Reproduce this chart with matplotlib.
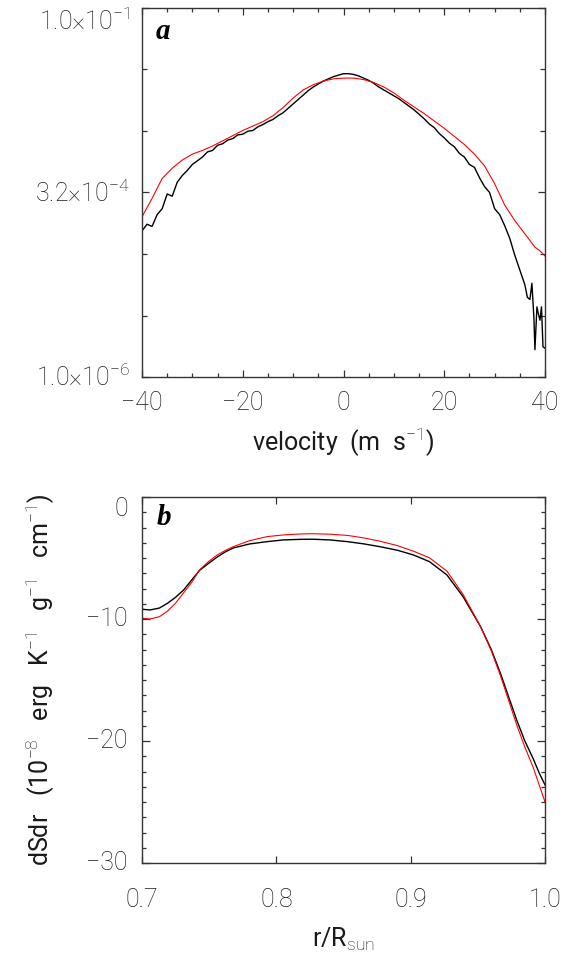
import matplotlib
matplotlib.use('Agg')
import matplotlib.pyplot as plt
import numpy as np
from matplotlib.ticker import FixedLocator, FixedFormatter, NullFormatter, MultipleLocator

plt.rcParams['font.family'] = ['Roboto', 'DejaVu Sans']
plt.rcParams['font.weight'] = 'light'
plt.rcParams['mathtext.fontset'] = 'custom'
plt.rcParams['mathtext.rm'] = 'Roboto:light'

# panel a: velocity distribution (log10 of values)
vel_black = [-40, -39, -38, -37, -36, -35, -34, -33, -32, -31, -30, -29, -28, -27, -26,
             -25, -24, -23, -22, -21, -20, -19, -18, -17, -16, -15, -14, -13, -12, -11,
             -10, -9, -8, -7, -6, -5, -4, -3, -2, -1, 0, 1, 2, 3, 4, 5, 6, 7, 8, 9,
             10, 11, 12, 13, 14, 15, 16, 17, 18, 19, 20, 21, 22, 23, 24, 25, 26, 27,
             28, 29, 30, 31, 32, 33, 34, 35, 36.0, 36.5, 37.0, 37.4, 37.8, 38.0, 38.4,
             38.7, 39.0, 39.3, 39.6, 40.0]
logf_black = [-4.02, -3.93, -3.96, -3.80, -3.72, -3.52, -3.55, -3.36, -3.27, -3.20,
              -3.12, -3.07, -3.02, -2.95, -2.93, -2.86, -2.84, -2.79, -2.77, -2.72,
              -2.71, -2.67, -2.66, -2.61, -2.58, -2.54, -2.51, -2.46, -2.42, -2.36,
              -2.30, -2.24, -2.18, -2.12, -2.07, -2.03, -1.99, -1.96, -1.93, -1.91,
              -1.89, -1.89, -1.90, -1.92, -1.95, -1.98, -2.02, -2.07, -2.11, -2.15,
              -2.19, -2.23, -2.28, -2.33, -2.38, -2.44, -2.50, -2.57, -2.62, -2.70,
              -2.76, -2.83, -2.88, -2.97, -3.02, -3.12, -3.16, -3.30, -3.42, -3.50,
              -3.72, -3.80, -3.95, -4.12, -4.35, -4.55, -4.75, -4.92, -4.95, -4.73,
              -5.20, -5.63, -5.05, -5.15, -5.23, -5.05, -5.59, -5.61]

vel_red = [-40, -38, -36, -34, -32, -30, -28, -26, -24, -22, -20, -18, -16, -14, -12,
           -10, -8, -6, -4, -2, 0, 2, 4, 6, 8, 10, 12, 14, 16, 18, 20, 22, 24, 26, 28,
           30, 32, 34, 36, 38, 39, 40]
logf_red = [-3.83, -3.58, -3.31, -3.17, -3.06, -2.98, -2.93, -2.87, -2.80, -2.73,
            -2.66, -2.60, -2.54, -2.46, -2.35, -2.22, -2.11, -2.04, -1.99, -1.96,
            -1.95, -1.95, -1.97, -2.01, -2.07, -2.15, -2.25, -2.34, -2.43, -2.53,
            -2.63, -2.74, -2.85, -2.98, -3.14, -3.38, -3.67, -3.88, -4.06, -4.24,
            -4.29, -4.36]

yticks_a = [1e-6, 10**-3.5, 1e-1]
ylabels_a = [r'1.0$\times$10$^{-6}$', r'3.2$\times$10$^{-4}$', r'1.0$\times$10$^{-1}$']

# panel b: dS/dr profiles
r_b = [0.700, 0.706, 0.713, 0.719, 0.725, 0.731, 0.737, 0.743, 0.750, 0.756, 0.762,
       0.768, 0.780, 0.793, 0.805, 0.818, 0.827, 0.840, 0.853, 0.865, 0.877, 0.890,
       0.902, 0.914, 0.927, 0.939, 0.952, 0.960, 0.967, 0.973, 0.979, 0.985, 0.991,
       0.996, 1.000]
dsdr_black = [-9.20, -9.26, -9.10, -8.71, -8.22, -7.62, -6.80, -6.00, -5.40, -4.92,
              -4.50, -4.18, -3.85, -3.66, -3.52, -3.47, -3.46, -3.52, -3.66, -3.84,
              -4.07, -4.36, -4.75, -5.30, -6.39, -8.17, -10.62, -12.5, -14.5, -16.4,
              -18.3, -20.0, -21.4, -22.7, -23.6]
dsdr_red = [-9.94, -10.00, -9.81, -9.35, -8.70, -7.85, -7.00, -5.95, -5.25, -4.75,
            -4.38, -4.07, -3.58, -3.25, -3.11, -3.03, -3.01, -3.05, -3.15, -3.35,
            -3.62, -3.98, -4.44, -4.98, -6.08, -7.98, -10.62, -12.6, -14.7, -16.7,
            -18.7, -20.5, -22.1, -23.7, -25.0]

yticks_b = [0, -10, -20, -30]
ylabels_b = ['0', '\u221210', '\u221220', '\u221230']

fig = plt.figure(figsize=(5.67, 9.57), dpi=100)
ax1 = fig.add_axes([142/567, 1-377/957, 403/567, 369/957])
ax2 = fig.add_axes([142/567, 1-863/957, 403/567, 366/957])

fs = 18
txtc = '#1a1a1a'

ax1.plot(vel_black, 10**np.array(logf_black), color='black', lw=1.0)
ax1.plot(vel_red, 10**np.array(logf_red), color='red', lw=0.8)
ax1.set_yscale('log')
ax1.set_xlim(-40, 40)
ax1.set_ylim(1e-6, 1e-1)
ax1.xaxis.set_major_locator(FixedLocator([-40, -20, 0, 20, 40]))
ax1.xaxis.set_minor_locator(MultipleLocator(5))
ax1.yaxis.set_major_locator(FixedLocator(yticks_a))
ax1.yaxis.set_major_formatter(NullFormatter())
ax1.yaxis.set_minor_locator(FixedLocator([10**-5.1667, 10**-4.3333, 10**-2.6667, 10**-1.8333]))
ax1.yaxis.set_minor_formatter(NullFormatter())
# y tick labels placed by hand so the top one sits inside the figure, as in IDL output
for v, lab, va in zip(yticks_a, ylabels_a, ['center', 'center', 'top']):
    ax1.text(-0.03, v, lab, transform=ax1.get_yaxis_transform(), ha='right', va=va,
             fontsize=fs, color=txtc)
ax1.set_xlabel(r'velocity  (m  s$^{-1}$)', fontsize=fs, color=txtc, labelpad=8)
ax1.text(0.053, 0.935, 'a', transform=ax1.transAxes, fontsize=21, fontstyle='italic',
         fontweight='bold', family='Liberation Serif', ha='center', va='center')
ax1.tick_params(axis='x', which='major', length=5, pad=10)
ax1.tick_params(axis='x', which='minor', length=3)
ax1.tick_params(axis='y', which='major', length=5)
ax1.tick_params(axis='y', which='minor', length=3.6)

ax2.plot(r_b, dsdr_black, color='black', lw=1.0)
ax2.plot(r_b, dsdr_red, color='red', lw=0.8)
ax2.set_xlim(0.7, 1.0)
ax2.set_ylim(-30, 0)
ax2.xaxis.set_major_locator(FixedLocator([0.7, 0.8, 0.9, 1.0]))
ax2.xaxis.set_major_formatter(FixedFormatter(['0.7', '0.8', '0.9', '1.0']))
ax2.yaxis.set_major_locator(FixedLocator(yticks_b))
ax2.yaxis.set_major_formatter(NullFormatter())
ax2.yaxis.set_minor_locator(MultipleLocator(1.25))
for v, lab, va in zip(yticks_b, ylabels_b, ['top', 'center', 'center', 'center']):
    ax2.text(-0.035, v, lab, transform=ax2.get_yaxis_transform(), ha='right', va=va,
             fontsize=fs, color=txtc)
ax2.set_xlabel(r'r/R$_{\rm sun}$', fontsize=fs, color=txtc, labelpad=10)
ax2.set_ylabel(r'dSdr   (10$^{-8}$   erg   K$^{-1}$   g$^{-1}$   cm$^{-1}$)', fontsize=fs,
               color=txtc, labelpad=58)
ax2.text(0.055, 0.945, 'b', transform=ax2.transAxes, fontsize=21, fontstyle='italic',
         fontweight='bold', family='Liberation Serif', ha='center', va='center')
ax2.tick_params(axis='x', which='major', length=5, pad=18)
ax2.tick_params(axis='y', which='major', length=5.5)
ax2.tick_params(axis='y', which='minor', length=3)

for ax in (ax1, ax2):
    ax.tick_params(which='both', direction='in', top=True, right=True,
                   labelsize=fs, labelcolor=txtc, width=0.9, color='#333333')
    for s in ax.spines.values():
        s.set_linewidth(1.0)
        s.set_color('#333333')

fig.savefig('out.png', dpi=100)
